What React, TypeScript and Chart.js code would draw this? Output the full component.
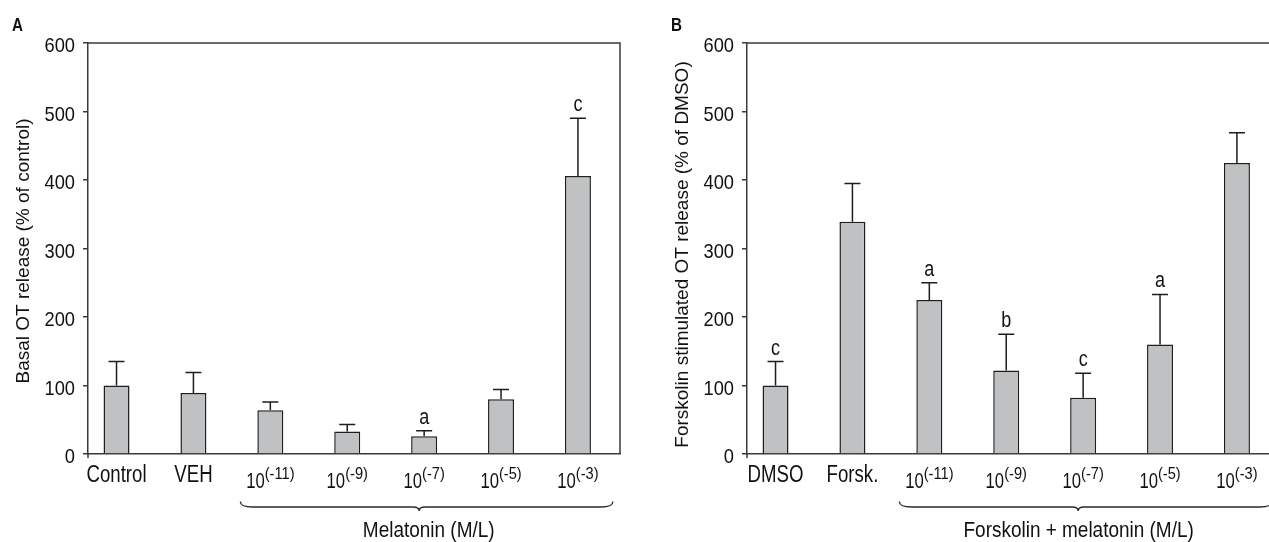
import React, { useEffect, useRef } from "react";
import { Chart, registerables } from "chart.js";

Chart.register(...registerables);

// ---------- data ----------
const labelsA = ["Control", "VEH", "10", "10", "10", "10", "10"];
const supsA = ["", "", "(-11)", "(-9)", "(-7)", "(-5)", "(-3)"];
const meansA = [100, 89, 64, 33, 26, 80, 406];
const semA = [35, 30, 12, 10, 8, 14, 84];
const sigA = ["", "", "", "", "a", "", "c"];

const labelsB = ["DMSO", "Forsk.", "10", "10", "10", "10", "10"];
const supsB = ["", "", "(-11)", "(-9)", "(-7)", "(-5)", "(-3)"];
const meansB = [100, 339, 225, 122, 82, 160, 425];
const semB = [35, 56, 25, 53, 36, 73, 44];
const sigB = ["c", "", "a", "b", "c", "a", ""];

const yTickValues = [0, 100, 200, 300, 400, 500, 600];

// ---------- style ----------
const SANS = '"Liberation Sans", Arial, "Helvetica", sans-serif';
const AXIS = "#3a3a3a";
const INK = "#111111";
const BAR_FILL = "#c0c1c2";
const BAR_EDGE = "#1e1e1e";

type Panel = {
  letter: string;
  yTitle: string;
  groupLabel: string;
  groupDx: number;
  titleDy: number;
  labels: string[];
  sups: string[];
  means: number[];
  sem: number[];
  sig: string[];
};

const panelA: Panel = {
  letter: "A",
  yTitle: "Basal OT release (% of control)",
  groupLabel: "Melatonin (M/L)",
  groupDx: 4.6,
  titleDy: 2.5,
  labels: labelsA,
  sups: supsA,
  means: meansA,
  sem: semA,
  sig: sigA,
};

const panelB: Panel = {
  letter: "B",
  yTitle: "Forskolin stimulated OT release (% of DMSO)",
  groupLabel: "Forskolin + melatonin (M/L)",
  groupDx: -4.5,
  titleDy: 6,
  labels: labelsB,
  sups: supsB,
  means: meansB,
  sem: semB,
  sig: sigB,
};

// draw horizontally condensed text
function cText(
  ctx: CanvasRenderingContext2D,
  text: string,
  x: number,
  y: number,
  size: number,
  sx: number,
  align: CanvasTextAlign,
  weight = "normal"
) {
  ctx.save();
  ctx.font = `${weight} ${size}px ${SANS}`;
  ctx.textAlign = align;
  ctx.textBaseline = "alphabetic";
  ctx.translate(x, y);
  ctx.scale(sx, 1);
  ctx.fillText(text, 0, 0);
  ctx.restore();
}

function cWidth(ctx: CanvasRenderingContext2D, text: string, size: number, sx: number) {
  ctx.save();
  ctx.font = `${size}px ${SANS}`;
  const w = ctx.measureText(text).width * sx;
  ctx.restore();
  return w;
}

const decorPlugin = {
  id: "panelDecor",
  afterDraw(chart: any, _args: any, opts: any) {
    const p: Panel = opts.panel;
    if (!p) return;
    const { ctx, chartArea } = chart;
    const xs = chart.scales.x;
    const ys = chart.scales.y;
    const { left, right, top, bottom } = chartArea;
    ctx.save();

    // frame (top + right) and y-axis stub below zero
    ctx.strokeStyle = AXIS;
    ctx.lineWidth = 1.5;
    ctx.beginPath();
    ctx.moveTo(left, top);
    ctx.lineTo(right, top);
    ctx.lineTo(right, bottom);
    ctx.moveTo(left, bottom);
    ctx.lineTo(left, bottom + 4);
    ctx.stroke();

    ctx.fillStyle = INK;

    // y tick labels
    for (const v of yTickValues) {
      const y = ys.getPixelForValue(v);
      cText(ctx, String(v), left - 13, y + 9, 21, 0.87, "right");
    }

    // error bars + significance letters
    for (let i = 0; i < p.means.length; i++) {
      const x = xs.getPixelForValue(i);
      const y0 = ys.getPixelForValue(p.means[i]);
      const y1 = ys.getPixelForValue(p.means[i] + p.sem[i]);
      ctx.strokeStyle = BAR_EDGE;
      ctx.lineWidth = 1.5;
      ctx.beginPath();
      ctx.moveTo(x, y0);
      ctx.lineTo(x, y1);
      ctx.moveTo(x - 8, y1);
      ctx.lineTo(x + 8, y1);
      ctx.stroke();
      if (p.sig[i]) {
        cText(ctx, p.sig[i], x, y1 - 7, 22.5, 0.8, "center");
      }
    }

    // x category labels (with superscripts)
    for (let i = 0; i < p.labels.length; i++) {
      const x = xs.getPixelForValue(i);
      if (!p.sups[i]) {
        cText(ctx, p.labels[i], x, bottom + 27.6, 23.3, 0.8, "center");
      } else {
        const wB = cWidth(ctx, p.labels[i], 21.4, 0.78);
        const wS = cWidth(ctx, p.sups[i], 17, 0.86);
        const gap = 0;
        const start = x - (wB + gap + wS) / 2;
        cText(ctx, p.labels[i], start, bottom + 34, 21.4, 0.78, "left");
        cText(ctx, p.sups[i], start + wB + gap, bottom + 24.5, 17, 0.86, "left");
      }
    }

    // brace under the dose group
    const L = xs.getPixelForValue(2) - 30;
    const R = xs.getPixelForValue(6) + 35;
    const N = xs.getPixelForValue(4) - 5;
    const by = bottom + 53;
    const bt = bottom + 47.5;
    ctx.strokeStyle = "#2a2a2a";
    ctx.lineWidth = 1.3;
    ctx.beginPath();
    ctx.moveTo(L, bt);
    ctx.quadraticCurveTo(L, by, L + 12, by);
    ctx.lineTo(N - 6, by);
    ctx.quadraticCurveTo(N, by, N, by + 4);
    ctx.quadraticCurveTo(N, by, N + 6, by);
    ctx.lineTo(R - 12, by);
    ctx.quadraticCurveTo(R, by, R, bt);
    ctx.stroke();

    // group label
    cText(ctx, p.groupLabel, xs.getPixelForValue(4) + p.groupDx, bottom + 83, 21.8, 0.87, "center");

    // y title
    ctx.save();
    ctx.translate(left - 64, (top + bottom) / 2 + p.titleDy);
    ctx.rotate(-Math.PI / 2);
    ctx.font = `19px ${SANS}`;
    ctx.textAlign = "center";
    ctx.textBaseline = "middle";
    ctx.fillText(p.yTitle, 0, 0);
    ctx.restore();

    // panel letter
    cText(ctx, p.letter, left - 76, 30.5, 19, 0.8, "left", "bold");

    ctx.restore();
  },
};

function PanelChart({ panel, left }: { panel: Panel; left: number }) {
  const ref = useRef<HTMLCanvasElement | null>(null);
  useEffect(() => {
    if (!ref.current) return;
    const chart = new Chart(ref.current, {
      type: "bar",
      data: {
        datasets: [
          {
            data: panel.means.map((v, i) => ({ x: i, y: v })),
            backgroundColor: BAR_FILL,
            borderColor: BAR_EDGE,
            borderWidth: 1.5,
            barPercentage: 0.338,
            categoryPercentage: 1,
          },
        ],
      },
      options: {
        animation: false,
        responsive: false,
        layout: { padding: { top: 43, right: 20, left: 0, bottom: 0 } },
        plugins: {
          legend: { display: false },
          tooltip: { enabled: false },
          panelDecor: { panel },
        } as any,
        scales: {
          x: {
            type: "linear",
            offset: false,
            min: -0.371,
            max: 6.547,
            ticks: { display: false, stepSize: 1, includeBounds: false },
            grid: { display: false, offset: false },
            border: { display: true, color: AXIS, width: 1.5 },
            afterFit: (s: any) => {
              s.height = 88;
            },
          },
          y: {
            min: 0,
            max: 600,
            afterBuildTicks: (s: any) => {
              s.ticks = yTickValues.map((v) => ({ value: v }));
            },
            ticks: { display: false },
            grid: {
              drawOnChartArea: false,
              drawTicks: true,
              tickLength: 5,
              color: AXIS,
              lineWidth: 1.5,
            },
            border: { display: true, color: AXIS, width: 1.5 },
            afterFit: (s: any) => {
              s.width = 88;
            },
          },
        },
      } as any,
      plugins: [decorPlugin],
    });
    return () => chart.destroy();
  }, [panel]);
  return (
    <canvas
      ref={ref}
      width={640}
      height={542}
      style={{ position: "absolute", left, top: 0, width: 640, height: 542 }}
    />
  );
}

export default function App() {
  useEffect(() => {
    document.body.style.margin = "0";
  }, []);
  return (
    <div
      style={{
        position: "relative",
        width: 1269,
        height: 542,
        overflow: "hidden",
        background: "#ffffff",
      }}
    >
      <PanelChart panel={panelA} left={0} />
      <PanelChart panel={panelB} left={659} />
    </div>
  );
}
